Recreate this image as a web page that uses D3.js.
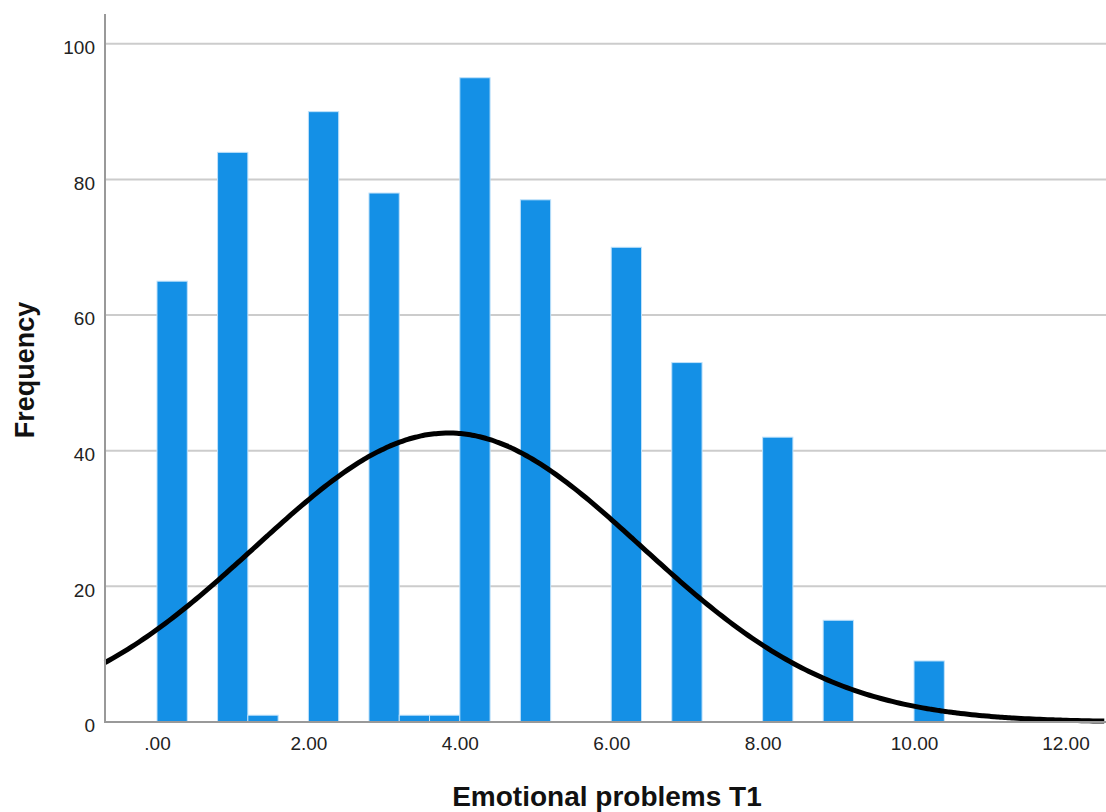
<!DOCTYPE html>
<html>
<head>
<meta charset="utf-8">
<script src="https://cdn.jsdelivr.net/npm/d3@7"></script>
<style>
  body { margin: 0; background: #fff; }
  svg { font-family: "Liberation Sans", Arial, sans-serif; }
</style>
</head>
<body>
<svg width="1106" height="812"></svg>
<script>
// Data
const binStarts = [0, 0.8, 1.2, 2.0, 2.8, 3.2, 3.6, 4.0, 4.8, 6.0, 6.8, 8.0, 8.8, 10.0]
const counts = [65, 84, 1, 90, 78, 1, 1, 95, 77, 70, 53, 42, 15, 9]
const binWidth = 0.4
const xTicks = [0, 2, 4, 6, 8, 10, 12]
const yTicks = [0, 20, 40, 60, 80, 100]
// normal curve fitted by SPSS
const curveMean = 3.85
const curveSD = 2.55

const bins = binStarts.map((s, i) => ({ start: s, count: counts[i] }))
const n = d3.sum(counts)

// Set up
const svg = d3.select('svg')
const plotLeft = 105, plotRight = 1106, plotTop = 14, plotBottom = 722

const x = d3.scaleLinear().domain([-0.687, 12.536]).range([plotLeft, plotRight])
const y = d3.scaleLinear().domain([0, 104.4]).range([plotBottom, plotTop])

// gridlines
svg.append('g')
    .selectAll('line')
    .data(yTicks.filter(d => d > 0))
    .join('line')
    .attr('x1', plotLeft)
    .attr('x2', plotRight)
    .attr('y1', d => y(d))
    .attr('y2', d => y(d))
    .attr('stroke', '#cccccc')
    .attr('stroke-width', 2)

// y axis
const yAxis = svg.append('g')
    .attr('transform', `translate(${plotLeft},0)`)
    .call(d3.axisLeft(y).tickValues(yTicks).tickSize(0).tickPadding(10))
yAxis.select('.domain').remove()
yAxis.selectAll('text')
    .attr('dy', '0.52em')
    .attr('font-size', 19)
    .attr('fill', '#222')
    .style('font-family', '"Liberation Sans", Arial, sans-serif')

// bars
svg.append('g')
    .selectAll('rect')
    .data(bins)
    .join('rect')
    .attr('x', d => x(d.start))
    .attr('y', d => y(d.count))
    .attr('width', d => x(d.start + binWidth) - x(d.start))
    .attr('height', d => y(0) - y(d.count))
    .attr('fill', '#1490e6')
    .attr('stroke', '#bfe1fa')
    .attr('stroke-width', 1)

// normal curve
const density = v => n * binWidth / (curveSD * Math.sqrt(2 * Math.PI)) *
    Math.exp(-0.5 * Math.pow((v - curveMean) / curveSD, 2))
const curveX = d3.range(x.domain()[0], x.domain()[1] + 0.01, 0.05)
svg.append('path')
    .datum(curveX)
    .attr('fill', 'none')
    .attr('stroke', '#000')
    .attr('stroke-width', 5)
    .attr('d', d3.line().x(d => x(d)).y(d => y(density(d))).curve(d3.curveBasis))

// axis lines
svg.append('line')
    .attr('x1', plotLeft).attr('x2', plotLeft)
    .attr('y1', plotTop).attr('y2', plotBottom + 1)
    .attr('stroke', '#999').attr('stroke-width', 2)
svg.append('line')
    .attr('x1', plotLeft).attr('x2', plotRight)
    .attr('y1', plotBottom).attr('y2', plotBottom)
    .attr('stroke', '#999').attr('stroke-width', 2)

// x axis labels
const fmt = d3.format('.2f')
const xAxis = svg.append('g')
    .attr('transform', `translate(0,${plotBottom})`)
    .call(d3.axisBottom(x).tickValues(xTicks).tickSize(0).tickPadding(15)
        .tickFormat(d => fmt(d).replace(/^0\./, '.')))
xAxis.select('.domain').remove()
xAxis.selectAll('text')
    .attr('font-size', 19)
    .attr('fill', '#222')
    .style('font-family', '"Liberation Sans", Arial, sans-serif')

// titles
svg.append('text')
    .attr('x', 607)
    .attr('y', 806)
    .attr('text-anchor', 'middle')
    .attr('font-size', 28)
    .attr('font-weight', 'bold')
    .attr('fill', '#111')
    .text('Emotional problems T1')

svg.append('text')
    .attr('transform', 'translate(34,370) rotate(-90)')
    .attr('text-anchor', 'middle')
    .attr('font-size', 27)
    .attr('font-weight', 'bold')
    .attr('fill', '#111')
    .text('Frequency')
</script>
</body>
</html>
